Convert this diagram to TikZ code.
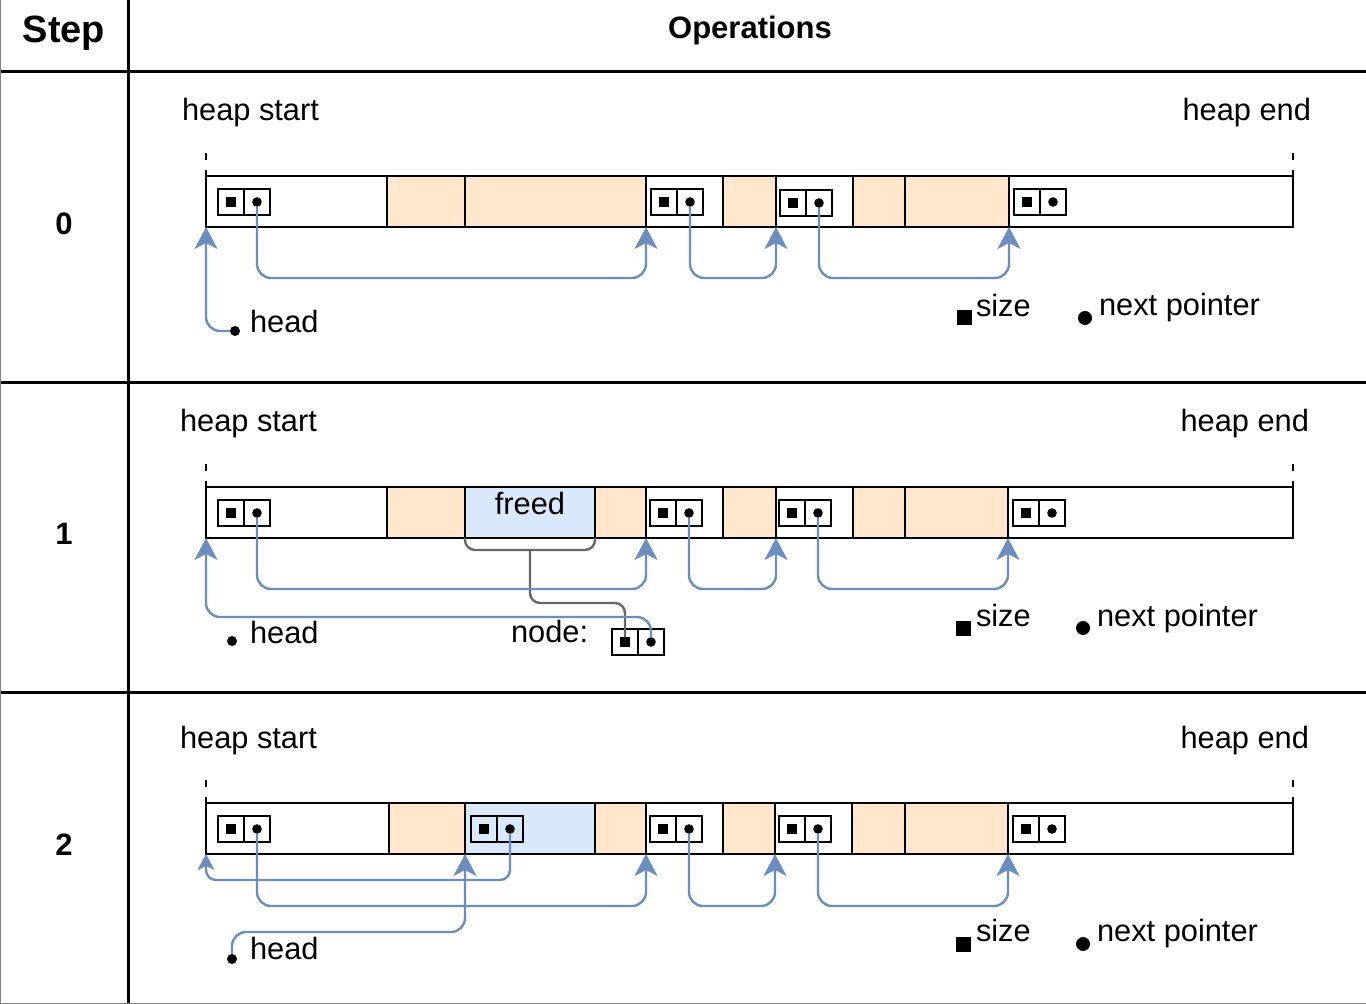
\documentclass[tikz,border=0pt]{standalone}
\usepackage{fontspec}
\setmainfont{Liberation Sans}
\usetikzlibrary{positioning,arrows.meta}
\definecolor{usedc}{HTML}{FFE6CC}
\definecolor{freec}{HTML}{DAE8FC}
\definecolor{ptrc}{HTML}{6C8EBF}
\definecolor{brcc}{HTML}{666666}

\begin{document}
\begin{tikzpicture}[x=0.5pt,y=-0.5pt,
    every node/.style={inner sep=0pt, outer sep=0pt, font=\fontsize{15.4}{18}\selectfont},
    grid/.style={line width=1.5pt},
    seg/.style={draw, line width=1.1pt, minimum height=25.5pt, anchor=north west},
    used/.style={seg, fill=usedc},
    free/.style={seg, fill=freec},
    szc/.style={draw, line width=1.1pt, minimum size=13pt,
        path picture={\fill ([shift={(-2.6pt,-2.6pt)}]path picture bounding box.center) rectangle ++(5.2pt,5.2pt);}},
    ptc/.style={draw, line width=1.1pt, minimum size=13pt,
        path picture={\fill (path picture bounding box.center) circle (2.4pt);}},
    ptr/.style={draw=ptrc, line width=1.2pt, rounded corners=7pt, shorten <=2.4pt,
        -{Stealth[length=11pt, width=11.5pt, inset=3pt, fill=ptrc]}},
    brc/.style={draw=brcc, line width=1.2pt, rounded corners=5pt},
    endmark/.style={line width=1pt, dash pattern=on 3.5pt off 5pt},
    hdot/.style={circle, fill, minimum size=5pt},
    ksq/.style={fill, minimum size=7.5pt},
    kdot/.style={circle, fill, minimum size=7pt},
    title/.style={font=\fontsize{15.5}{18}\selectfont\bfseries}
]
\useasboundingbox (0,0) rectangle (1366,1004);

% table
\draw[grid] (0,72) -- (1366,72);
\draw[grid] (0,383) -- (1366,383);
\draw[grid] (0,693) -- (1366,693);
\draw[grid] (128,0) -- (128,1004);
\draw[gray, line width=0.5pt] (0.5,0) -- (0.5,1003.5) -- (1366,1003.5);
\node[font=\fontsize{19}{22}\selectfont\bfseries] (hstep) at (64,33) {Step};
\node[title] (hops) at (750,30) {Operations};
\node[title] (n0) at (64,224) {0};
\node[title] (n1) at (64,534) {1};
\node[title] (n2) at (64,845) {2};

% step 0
\node[anchor=west] (t0s) at (182,113) {heap start};
\node[anchor=east] (t0e) at (1311,113) {heap end};
\node[seg, minimum width=90.5pt] (s0a) at (206,176) {};
\node[used, minimum width=39pt, right=0pt of s0a] (s0b) {};
\node[used, minimum width=90.5pt, right=0pt of s0b] (s0c) {};
\node[seg, minimum width=38.5pt, right=0pt of s0c] (s0d) {};
\node[used, minimum width=26.5pt, right=0pt of s0d] (s0e) {};
\node[seg, minimum width=38.5pt, right=0pt of s0e] (s0f) {};
\node[used, minimum width=26pt, right=0pt of s0f] (s0g) {};
\node[used, minimum width=52pt, right=0pt of s0g] (s0h) {};
\node[seg, minimum width=142pt, right=0pt of s0h] (s0i) {};
\draw[endmark] (206,153) -- (s0a.north west);
\draw[endmark] (1293,153) -- (s0i.north east);
\node[szc] (z0a) at (231,202) {};
\node[ptc, right=0pt of z0a] (p0a) {};
\node[szc] (z0b) at (664,202) {};
\node[ptc, right=0pt of z0b] (p0b) {};
\node[szc] (z0c) at (793,203) {};
\node[ptc, right=0pt of z0c] (p0c) {};
\node[szc] (z0d) at (1027,202) {};
\node[ptc, right=0pt of z0d] (p0d) {};
\node[hdot] (hd0) at (235,331) {};
\node[anchor=base west] (t0h) at (250,333) {head};
\draw[ptr] (p0a.center) -- ++(0,76) -| (s0d.south west);
\draw[ptr] (p0b.center) -- ++(0,76) -| (s0f.south west);
\draw[ptr] (p0c.center) -- ++(0,75) -| (s0i.south west);
\draw[ptr] (hd0.center) -| (s0a.south west);
\node[ksq] (k0s) at (964,318) {};
\node[anchor=base west] (t0k) at (976,317) {size};
\node[kdot] (k0p) at (1085,318) {};
\node[anchor=base west] (t0p) at (1099,316) {next pointer};

% step 1
\node[anchor=west] (t1s) at (180,424) {heap start};
\node[anchor=east] (t1e) at (1309,424) {heap end};
\node[seg, minimum width=90.5pt] (s1a) at (206,487) {};
\node[used, minimum width=39pt, right=0pt of s1a] (s1b) {};
\node[free, minimum width=65pt, right=0pt of s1b] (s1c) {};
\node[used, minimum width=25.5pt, right=0pt of s1c] (s1d) {};
\node[seg, minimum width=38.5pt, right=0pt of s1d] (s1e) {};
\node[used, minimum width=26.5pt, right=0pt of s1e] (s1f) {};
\node[seg, minimum width=38.5pt, right=0pt of s1f] (s1g) {};
\node[used, minimum width=26pt, right=0pt of s1g] (s1h) {};
\node[used, minimum width=51.5pt, right=0pt of s1h] (s1i) {};
\node[seg, minimum width=142.5pt, right=0pt of s1i] (s1j) {};
\node[anchor=base] (t1f) at (530,515) {freed};
\draw[endmark] (206,464) -- (s1a.north west);
\draw[endmark] (1293,464) -- (s1j.north east);
\node[szc] (z1a) at (231,513) {};
\node[ptc, right=0pt of z1a] (p1a) {};
\node[szc] (z1b) at (663,513) {};
\node[ptc, right=0pt of z1b] (p1b) {};
\node[szc] (z1c) at (792,513) {};
\node[ptc, right=0pt of z1c] (p1c) {};
\node[szc] (z1d) at (1026,513) {};
\node[ptc, right=0pt of z1d] (p1d) {};
\node[anchor=base west] (t1n) at (511,643) {node:};
\node[szc] (z1n) at (625,642) {};
\node[ptc, right=0pt of z1n] (p1n) {};
\node[hdot] (hd1) at (232,641) {};
\node[anchor=base west] (t1h) at (250,644) {head};
\draw[brc] (s1c.south west) -- ++(0,12) -| (s1c.south east);
\coordinate (bt1) at ([yshift=-6pt]s1c.south);
\draw[brc, shorten >=2.6pt] (bt1) -- ++(0,53) -| (z1n.center);
\draw[ptr] (p1a.center) -- ++(0,76) -| (s1e.south west);
\draw[ptr] (p1b.center) -- ++(0,76) -| (s1g.south west);
\draw[ptr] (p1c.center) -- ++(0,76) -| (s1j.south west);
\draw[ptr] (p1n.center) -- ++(0,-25) -| (s1a.south west);
\node[ksq] (k1s) at (963,629) {};
\node[anchor=base west] (t1k) at (976,627) {size};
\node[kdot] (k1p) at (1083,628) {};
\node[anchor=base west] (t1p) at (1097,627) {next pointer};

% step 2
\node[anchor=west] (t2s) at (180,741) {heap start};
\node[anchor=east] (t2e) at (1309,741) {heap end};
\node[seg, minimum width=91.5pt] (s2a) at (206,803) {};
\node[used, minimum width=38pt, right=0pt of s2a] (s2b) {};
\node[free, minimum width=65pt, right=0pt of s2b] (s2c) {};
\node[used, minimum width=25.5pt, right=0pt of s2c] (s2d) {};
\node[seg, minimum width=38.5pt, right=0pt of s2d] (s2e) {};
\node[used, minimum width=26pt, right=0pt of s2e] (s2f) {};
\node[seg, minimum width=38.5pt, right=0pt of s2f] (s2g) {};
\node[used, minimum width=26.5pt, right=0pt of s2g] (s2h) {};
\node[used, minimum width=51.5pt, right=0pt of s2h] (s2i) {};
\node[seg, minimum width=142.5pt, right=0pt of s2i] (s2j) {};
\draw[endmark] (206,780) -- (s2a.north west);
\draw[endmark] (1293,780) -- (s2j.north east);
\node[szc] (z2a) at (231,829) {};
\node[ptc, right=0pt of z2a] (p2a) {};
\node[szc] (z2b) at (484,829) {};
\node[ptc, right=0pt of z2b] (p2b) {};
\node[szc] (z2c) at (663,829) {};
\node[ptc, right=0pt of z2c] (p2c) {};
\node[szc] (z2d) at (792,829) {};
\node[ptc, right=0pt of z2d] (p2d) {};
\node[szc] (z2e) at (1026,829) {};
\node[ptc, right=0pt of z2e] (p2e) {};
\node[hdot] (hd2) at (232,959) {};
\node[anchor=base west] (t2h) at (250,959) {head};
\draw[ptr, rounded corners=5pt, -{Stealth[length=8pt, width=8.5pt, inset=2pt, fill=ptrc]}]
    (p2b.center) -- ++(0,51) -| (s2a.south west);
\draw[ptr] (p2a.center) -- ++(0,77) -| (s2e.south west);
\draw[ptr] (hd2.center) -- ++(0,-27) -| (s2c.south west);
\draw[ptr] (p2c.center) -- ++(0,77) -| (s2g.south west);
\draw[ptr] (p2d.center) -- ++(0,77) -| (s2j.south west);
\node[ksq] (k2s) at (963,945) {};
\node[anchor=base west] (t2k) at (976,942) {size};
\node[kdot] (k2p) at (1083,944) {};
\node[anchor=base west] (t2p) at (1097,942) {next pointer};
\end{tikzpicture}
\end{document}
